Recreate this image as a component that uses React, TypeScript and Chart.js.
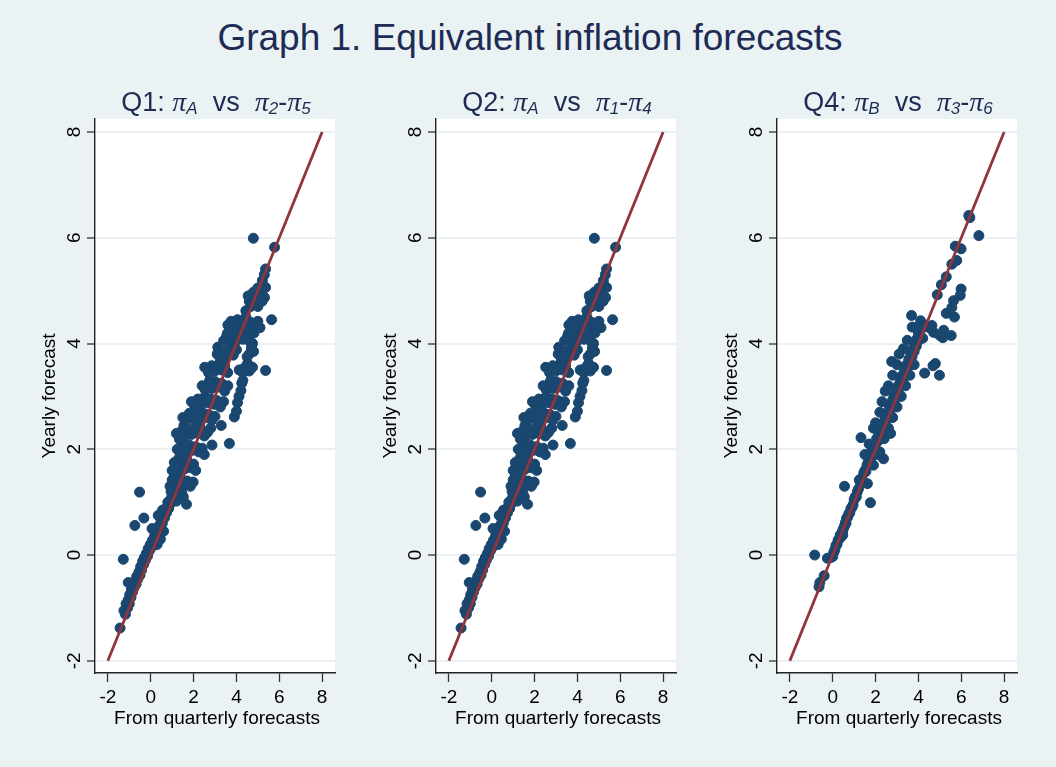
import React, { useEffect, useRef } from "react";
import { Chart, registerables } from "chart.js";
Chart.register(...registerables);

const mainTitle = "Graph 1. Equivalent inflation forecasts";
const xAxisTitle = "From quarterly forecasts";
const yAxisTitle = "Yearly forecast";
const xTicks = [-2, 0, 2, 4, 6, 8];
const yTicks = [-2, 0, 2, 4, 6, 8];
const xRange = [-2.6, 8.6];
const yRange = [-2.23, 8.245];
const diagX = [-2, 8];

// Q1: pi_A vs pi_2 - pi_5 (x = from quarterly forecasts, y = yearly forecast)
const q1Points: [number, number][] = [
  [-1.43, -1.38],
  [-1.25, -1.05], [-1.18, -1.12], [-1.15, -0.92], [-1.08, -1.0], [-1.05, -0.85], [-1.0, -0.92],
  [-0.98, -0.75], [-0.92, -0.8], [-0.9, -0.65], [-0.85, -0.7], [-0.82, -0.55], [-0.78, -0.62],
  [-0.72, -0.48], [-0.68, -0.55], [-0.65, -0.4], [-0.6, -0.45], [-0.55, -0.32], [-0.5, -0.38],
  [-0.47, -0.22], [-0.42, -0.28], [-0.38, -0.12], [-0.33, -0.18], [-0.3, -0.05], [-0.25, -0.1],
  [-0.2, 0.03], [-0.15, -0.02], [-0.12, 0.12], [-0.06, 0.08], [-0.02, 0.2], [0.04, 0.15],
  [0.08, 0.28], [0.14, 0.22], [0.18, 0.36], [0.24, 0.32], [0.28, 0.45], [0.34, 0.4],
  [0.38, 0.55], [0.44, 0.5], [0.48, 0.64], [0.54, 0.6], [0.58, 0.74], [0.64, 0.7],
  [0.68, 0.83], [0.74, 0.8], [0.78, 0.92], [0.84, 0.88], [0.88, 1.02], [0.94, 0.98], [0.98, 1.1],
  [-1.28, -0.08], [-1.05, -0.52], [-0.52, 1.19], [-0.74, 0.56], [-0.32, 0.7], [0.06, 0.5],
  [0.3, 0.2], [0.45, 0.3], [0.6, 0.45], [0.35, 0.75], [0.55, 0.85],
  [0.8, 1.0], [1.0, 1.05], [1.1, 1.15], [1.2, 1.02], [1.3, 1.1], [1.45, 1.18], [1.52, 1.1],
  [1.67, 0.96], [0.95, 1.2], [1.15, 1.25],
  [0.9, 1.3], [1.0, 1.42], [1.14, 1.29], [1.25, 1.35], [1.4, 1.45], [1.55, 1.32], [1.7, 1.4],
  [1.85, 1.3], [1.98, 1.38], [1.1, 1.5], [1.3, 1.52],
  [1.0, 1.6], [1.1, 1.75], [1.25, 1.65], [1.4, 1.7], [1.55, 1.62], [1.7, 1.78], [1.85, 1.65],
  [2.0, 1.72], [2.1, 1.6], [1.3, 1.82], [1.6, 1.85],
  [1.24, 2.0], [1.35, 1.95], [1.5, 2.05], [1.65, 1.92], [1.8, 2.08], [1.95, 1.98], [2.1, 2.05],
  [2.25, 1.95], [2.4, 2.02], [2.5, 1.9], [2.86, 2.08], [3.67, 2.11], [1.45, 2.15],
  [1.2, 2.3], [1.34, 2.19], [1.45, 2.35], [1.6, 2.25], [1.75, 2.38], [1.9, 2.28], [2.05, 2.4],
  [2.2, 2.3], [2.35, 2.38], [2.5, 2.25], [2.65, 2.32], [2.8, 2.4], [3.29, 2.45], [1.55, 2.45],
  [1.5, 2.6], [1.65, 2.55], [1.8, 2.68], [1.95, 2.58], [2.1, 2.66], [2.25, 2.55], [2.4, 2.7],
  [2.55, 2.6], [2.7, 2.66], [2.85, 2.55], [3.0, 2.62], [3.9, 2.61], [4.0, 2.72],
  [1.9, 2.9], [2.05, 2.82], [2.2, 2.95], [2.35, 2.85], [2.5, 2.98], [2.65, 2.88], [2.8, 2.95],
  [2.95, 2.85], [3.1, 2.92], [3.25, 2.8], [3.4, 2.9], [4.05, 2.88], [4.12, 3.0],
  [2.4, 3.2], [2.55, 3.12], [2.7, 3.25], [2.85, 3.15], [3.0, 3.28], [3.15, 3.18], [3.3, 3.25],
  [3.45, 3.1], [3.6, 3.2], [4.21, 3.11], [4.25, 3.25], [4.3, 3.3], [2.75, 3.3],
  [2.52, 3.55], [2.7, 3.45], [2.85, 3.58], [3.0, 3.48], [3.15, 3.6], [3.3, 3.5], [3.45, 3.58],
  [3.59, 3.45], [4.13, 3.5], [4.3, 3.45], [4.4, 3.55], [4.52, 3.62], [4.6, 3.48], [4.75, 3.55],
  [3.1, 3.8], [3.25, 3.72], [3.4, 3.85], [3.55, 3.75], [3.7, 3.9], [3.85, 3.78], [4.0, 3.88],
  [4.5, 3.75], [4.6, 3.8], [4.7, 3.92], [4.8, 3.85], [3.13, 3.93],
  [3.4, 4.05], [3.55, 4.15], [3.7, 4.02], [3.85, 4.12], [4.0, 4.05], [4.15, 4.18], [4.3, 4.08],
  [4.45, 4.15], [4.6, 4.05], [4.75, 4.0], [4.82, 4.2], [3.59, 4.2],
  [3.6, 4.35], [3.75, 4.42], [3.9, 4.3], [4.05, 4.45], [4.2, 4.35], [4.35, 4.42], [4.5, 4.3],
  [4.67, 4.4], [4.85, 4.35], [5.0, 4.42], [5.1, 4.3], [5.64, 4.45], [4.44, 4.5],
  [4.44, 4.62], [4.6, 4.8], [4.67, 4.7], [4.79, 4.97], [4.9, 4.85], [5.0, 4.7], [5.1, 4.95],
  [5.2, 4.8], [5.31, 4.87], [4.55, 4.9],
  [5.36, 5.06], [5.21, 5.19], [5.36, 5.41], [5.0, 5.05], [5.3, 5.3],
  [5.78, 5.82], [4.79, 5.99], [5.36, 3.49],
];

// Q2: pi_A vs pi_1 - pi_4 (reads identical to Q1 in the picture)
const q2Points: [number, number][] = q1Points.map((p) => [p[0], p[1]]);

// Q4: pi_B vs pi_3 - pi_6
const q4Points: [number, number][] = [
  [-0.84, 0.0], [-0.64, -0.6], [-0.6, -0.52], [-0.4, -0.39], [-0.25, -0.06], [-0.1, -0.05],
  [0.0, -0.03], [0.05, 0.05], [0.1, 0.1], [0.15, 0.18], [0.2, 0.2], [0.25, 0.28], [0.3, 0.3],
  [0.35, 0.38], [0.4, 0.35], [0.45, 0.45], [0.47, 0.38], [0.5, 0.5], [0.55, 0.55], [0.6, 0.62],
  [0.62, 0.6], [0.65, 0.7], [0.7, 0.72], [0.75, 0.78], [0.8, 0.8], [0.85, 0.88], [0.9, 0.9],
  [0.95, 0.95], [1.0, 1.05], [1.05, 1.1], [1.1, 1.1], [1.15, 1.2], [1.2, 1.25], [1.24, 1.42],
  [1.3, 1.35], [1.35, 1.45], [1.4, 1.4], [1.45, 1.55], [1.5, 1.6], [1.55, 1.58], [1.62, 1.35],
  [1.6, 1.7], [0.55, 1.3], [1.76, 0.99], [1.32, 2.22], [2.37, 1.82],
  [1.65, 1.75], [1.7, 1.8], [1.75, 1.9], [1.8, 1.85], [1.85, 2.0], [1.9, 1.95], [1.95, 2.05],
  [2.0, 2.1], [2.05, 2.2], [2.1, 2.15], [2.15, 2.3], [2.2, 2.25], [2.25, 2.4], [2.3, 2.35],
  [2.35, 2.5], [2.4, 2.45], [2.45, 2.6], [2.5, 2.55], [2.55, 2.7], [2.6, 2.65], [2.65, 2.8],
  [2.7, 2.75], [2.75, 2.9], [2.8, 2.85], [2.85, 3.0], [2.9, 2.95], [2.95, 3.1], [3.0, 3.05],
  [3.05, 3.2], [3.1, 3.15], [3.15, 3.3], [3.2, 3.25], [3.25, 3.4], [3.3, 3.35], [3.35, 3.5],
  [3.4, 3.45], [3.45, 3.6], [3.5, 3.55], [3.55, 3.7], [3.6, 3.65], [3.65, 3.8], [3.7, 3.75],
  [3.75, 3.9], [3.8, 3.85], [3.85, 4.0], [3.9, 3.95], [3.95, 4.1], [4.0, 4.05],
  [1.5, 1.9], [1.7, 2.1], [1.9, 2.4], [2.0, 2.5], [2.2, 2.7], [2.3, 2.9], [2.45, 3.1],
  [2.6, 3.2], [2.75, 3.66], [2.8, 3.4], [3.0, 3.6], [3.1, 3.8], [3.3, 3.9], [3.48, 4.06],
  [1.9, 1.7], [2.1, 1.9], [2.4, 2.2], [2.6, 2.4], [2.8, 2.6], [3.0, 2.8], [3.2, 3.0],
  [3.4, 3.2], [3.6, 3.4], [3.8, 3.6], [2.2, 1.95], [2.7, 2.3],
  [3.68, 4.53], [3.71, 4.31], [4.1, 4.43], [3.9, 4.3], [4.0, 4.2], [4.2, 4.3], [4.63, 4.34],
  [4.71, 4.21], [5.18, 4.25], [5.14, 4.11], [5.53, 4.15], [5.0, 4.15], [4.5, 4.3], [4.79, 3.62],
  [4.68, 3.58], [4.29, 3.44], [4.98, 3.4], [4.2, 4.1], [4.3, 4.35],
  [4.88, 4.92], [5.07, 5.11], [5.3, 5.26], [5.56, 5.5], [5.79, 5.57], [5.72, 5.84], [5.99, 5.79],
  [6.4, 6.38], [6.82, 6.04], [5.99, 5.03], [5.95, 4.91], [5.64, 4.81], [5.56, 4.68], [5.3, 4.57],
  [5.68, 4.5], [6.35, 6.42],
];

type Piece = { t: string; k: "n" | "g" | "s" };
const q1Title: Piece[] = [
  { t: "Q1: ", k: "n" }, { t: "π", k: "g" }, { t: "A", k: "s" }, { t: "  vs  ", k: "n" },
  { t: "π", k: "g" }, { t: "2", k: "s" }, { t: "-", k: "n" }, { t: "π", k: "g" }, { t: "5", k: "s" },
];
const q2Title: Piece[] = [
  { t: "Q2: ", k: "n" }, { t: "π", k: "g" }, { t: "A", k: "s" }, { t: "  vs  ", k: "n" },
  { t: "π", k: "g" }, { t: "1", k: "s" }, { t: "-", k: "n" }, { t: "π", k: "g" }, { t: "4", k: "s" },
];
const q4Title: Piece[] = [
  { t: "Q4: ", k: "n" }, { t: "π", k: "g" }, { t: "B", k: "s" }, { t: "  vs  ", k: "n" },
  { t: "π", k: "g" }, { t: "3", k: "s" }, { t: "-", k: "n" }, { t: "π", k: "g" }, { t: "6", k: "s" },
];

const NAVY = "#1e2c55";
const DOT = "#1a476f";
const LINE = "#90353b";
const SANS = '"Liberation Sans", Arial, Helvetica, sans-serif';
const SERIF = '"Liberation Serif", "Times New Roman", serif';

const CANVAS_W = 341;
const CANVAS_H = 767;

function pieceFont(k: Piece["k"]) {
  if (k === "n") return `27px ${SANS}`;
  if (k === "g") return `italic 28px ${SERIF}`;
  return `italic 17px ${SANS}`;
}

function Panel({ points, title, left }: { points: [number, number][]; title: Piece[]; left: number }) {
  const ref = useRef<HTMLCanvasElement | null>(null);
  useEffect(() => {
    if (!ref.current) return;
    const bgPlugin = {
      id: "plotBg",
      beforeDraw(chart: any) {
        const { ctx, chartArea } = chart;
        ctx.save();
        ctx.fillStyle = "#ffffff";
        ctx.fillRect(chartArea.left, chartArea.top, chartArea.right - chartArea.left, chartArea.bottom - chartArea.top);
        ctx.restore();
      },
    };
    const textPlugin = {
      id: "panelText",
      afterDraw(chart: any) {
        const { ctx, chartArea, scales } = chart;
        const xs = scales.x;
        const ys = scales.y;
        ctx.save();
        ctx.fillStyle = "#000000";
        ctx.font = `19px ${SANS}`;
        ctx.textAlign = "center";
        ctx.textBaseline = "alphabetic";
        yTicks.forEach((v) => {
          const py = ys.getPixelForValue(v);
          ctx.save();
          ctx.translate(chartArea.left - 15, py);
          ctx.rotate(-Math.PI / 2);
          ctx.fillText(String(v), 0, 0);
          ctx.restore();
        });
        ctx.save();
        ctx.translate(chartArea.left - 40, (chartArea.top + chartArea.bottom) / 2);
        ctx.rotate(-Math.PI / 2);
        ctx.fillText(yAxisTitle, 0, 0);
        ctx.restore();
        xTicks.forEach((v) => {
          const px = xs.getPixelForValue(v);
          ctx.fillText(String(v), px, chartArea.bottom + 30);
        });
        ctx.fillText(xAxisTitle, (chartArea.left + chartArea.right) / 2 + 2, chartArea.bottom + 51);
        ctx.fillStyle = NAVY;
        ctx.textAlign = "left";
        let total = 0;
        const widths = title.map((p) => {
          ctx.font = pieceFont(p.k);
          const w = ctx.measureText(p.t).width;
          total += w;
          return w;
        });
        let x = (chartArea.left + chartArea.right) / 2 - total / 2 + 1;
        const base = chartArea.top - 8;
        title.forEach((p, i) => {
          ctx.font = pieceFont(p.k);
          ctx.fillText(p.t, x, base + (p.k === "s" ? 3 : 0));
          x += widths[i];
        });
        ctx.restore();
      },
    };
    const chart = new Chart(ref.current, {
      type: "scatter",
      data: {
        datasets: [
          {
            type: "line",
            data: diagX.map((v) => ({ x: v, y: v })),
            borderColor: LINE,
            borderWidth: 2.8,
            pointRadius: 0,
            fill: false,
            order: 0,
          } as any,
          {
            data: points.map((p) => ({ x: p[0], y: p[1] })),
            pointRadius: 5,
            pointBorderWidth: 1,
            pointBackgroundColor: DOT,
            pointBorderColor: DOT,
            order: 1,
          },
        ],
      },
      options: {
        animation: false,
        responsive: false,
        maintainAspectRatio: false,
        events: [],
        layout: { padding: { left: 87, right: 3, top: 119, bottom: 85 } },
        plugins: { legend: { display: false }, tooltip: { enabled: false }, title: { display: false } },
        scales: {
          x: {
            type: "linear",
            min: xRange[0],
            max: xRange[1],
            afterBuildTicks: (s: any) => {
              s.ticks = xTicks.map((v) => ({ value: v }));
            },
            ticks: { display: false },
            grid: { display: true, drawOnChartArea: false, drawTicks: true, tickLength: 9, tickColor: "#333333", tickWidth: 1.3 },
            border: { display: true, color: "#222222", width: 1.4 },
          },
          y: {
            type: "linear",
            min: yRange[0],
            max: yRange[1],
            afterBuildTicks: (s: any) => {
              s.ticks = yTicks.map((v) => ({ value: v }));
            },
            ticks: { display: false },
            grid: { display: true, drawOnChartArea: true, color: "#eaf0f3", lineWidth: 2, drawTicks: true, tickLength: 8, tickColor: "#333333", tickWidth: 1.3 },
            border: { display: true, color: "#222222", width: 1.4 },
          },
        },
      },
      plugins: [bgPlugin, textPlugin],
    } as any);
    return () => chart.destroy();
  }, [points, title]);
  return (
    <canvas
      ref={ref}
      width={CANVAS_W}
      height={CANVAS_H}
      style={{ position: "absolute", left, top: 0, width: CANVAS_W, height: CANVAS_H }}
    />
  );
}

export default function App() {
  return (
    <div
      style={{
        position: "fixed",
        left: 0,
        top: 0,
        width: 1056,
        height: 767,
        background: "#eaf2f3",
        overflow: "hidden",
      }}
    >
      <div
        style={{
          position: "absolute",
          left: 2,
          width: 1056,
          top: 19,
          textAlign: "center",
          fontFamily: SANS,
          fontSize: 37,
          lineHeight: "37px",
          color: NAVY,
          whiteSpace: "nowrap",
        }}
      >
        {mainTitle}
      </div>
      <Panel points={q1Points} title={q1Title} left={0} />
      <Panel points={q2Points} title={q2Title} left={341} />
      <Panel points={q4Points} title={q4Title} left={682} />
    </div>
  );
}
